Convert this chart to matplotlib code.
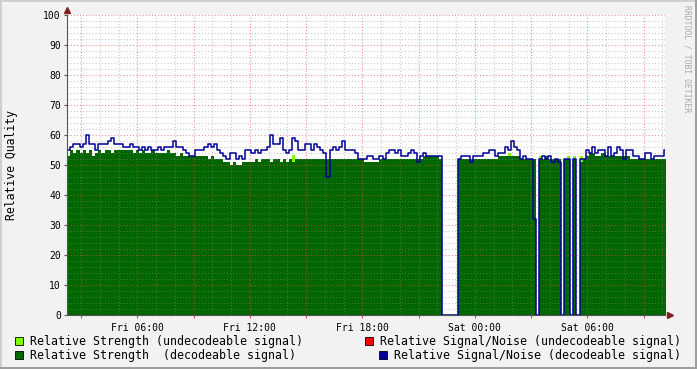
import numpy as np
import matplotlib
matplotlib.use("Agg")
import matplotlib.pyplot as plt
from matplotlib.patches import Rectangle

plt.rcParams["lines.scale_dashes"] = False

# time axis: hours since Fri 00:00, one value per 10 minutes
start_hour = 2.25
step_hours = 1 / 6

# relative strength (decodeable signal)
strength = [
    53, 55, 54, 55, 54, 55, 54, 55, 53, 54, 55, 54,
    55, 55, 54, 55, 55, 55, 55, 55, 55, 54, 55, 54,
    55, 54, 54, 55, 54, 54, 54, 54, 55, 54, 54, 53,
    54, 53, 53, 53, 53, 53, 53, 53, 53, 52, 53, 52,
    52, 52, 51, 51, 50, 51, 50, 50, 51, 51, 51, 51,
    52, 51, 52, 52, 52, 51, 52, 52, 51, 52, 51, 52,
    51, 52, 52, 52, 52, 52, 52, 52, 52, 52, 52, 52,
    52, 52, 52, 52, 52, 52, 52, 52, 52, 52, 52, 51,
    51, 51, 51, 51, 52, 52, 52, 52, 52, 52, 52, 52,
    52, 52, 52, 52, 52, 52, 53, 53, 53, 53, 53, 52,
    0, 0, 0, 0, 0, 52, 52, 52, 52, 52, 52, 52,
    52, 52, 52, 52, 52, 52, 53, 53, 53, 53, 53, 53,
    53, 52, 52, 52, 52, 52, 0, 52, 52, 53, 52, 52,
    52, 52, 0, 52, 52, 0, 52, 0, 51, 52, 53, 54,
    54, 53, 53, 54, 53, 53, 53, 53, 53, 53, 53, 53,
    52, 52, 52, 52, 52, 52, 52, 52, 52, 52, 52, 52,
]

# relative signal/noise (decodeable signal)
snr = [
    55, 56, 57, 57, 56, 57, 60, 57, 57, 55, 57, 57,
    57, 58, 59, 57, 57, 57, 56, 56, 57, 56, 56, 55,
    56, 55, 56, 55, 55, 56, 55, 56, 56, 56, 58, 56,
    56, 55, 54, 53, 53, 55, 55, 55, 56, 57, 56, 57,
    55, 54, 53, 52, 54, 54, 52, 53, 52, 55, 55, 54,
    55, 54, 55, 55, 56, 60, 57, 57, 59, 55, 54, 55,
    59, 58, 55, 55, 57, 57, 55, 57, 56, 55, 54, 46,
    55, 56, 55, 56, 58, 55, 55, 55, 54, 52, 52, 52,
    53, 53, 52, 52, 53, 52, 54, 55, 55, 54, 55, 53,
    53, 54, 55, 54, 51, 53, 54, 53, 53, 53, 53, 53,
    0, 0, 0, 0, 0, 52, 53, 53, 53, 51, 53, 53,
    53, 54, 54, 55, 55, 53, 54, 54, 56, 55, 58, 56,
    55, 52, 53, 52, 52, 32, 0, 52, 53, 52, 53, 51,
    52, 51, 0, 52, 52, 0, 52, 0, 52, 52, 55, 54,
    56, 54, 55, 55, 53, 56, 53, 54, 56, 55, 52, 55,
    55, 53, 53, 52, 52, 54, 54, 52, 53, 53, 53, 55,
]

# relative strength (undecodeable signal): only a few bins
light_bins = [72, 141, 151, 160, 162, 164]
light_values = [53.5, 54, 53, 53, 53, 53]

tick_hours = [6, 12, 18, 24, 30]
tick_labels = ["Fri 06:00", "Fri 12:00", "Fri 18:00", "Sat 00:00", "Sat 06:00"]

legend_items = [
    ("Relative Strength (undecodeable signal)", "#80ff00"),
    ("Relative Strength  (decodeable signal)", "#006600"),
    ("Relative Signal/Noise (undecodeable signal)", "#ff0000"),
    ("Relative Signal/Noise (decodeable signal)", "#000099"),
]

W, H = 697, 369
fig = plt.figure(figsize=(W / 100, H / 100), dpi=100, facecolor="#f2f2f2")
ax = fig.add_axes([67 / W, 1 - 315 / H, 598 / W, 300 / H])
ax.set_facecolor("white")

n = len(strength)
edges = start_hour + np.arange(n + 1) * step_hours
s = np.append(strength, strength[-1])
q = np.append(snr, snr[-1])

light = np.zeros(n)
light[light_bins] = light_values
ax.fill_between(edges, np.append(light, light[-1]), step="post",
                color="#80ff00", lw=0, zorder=1, antialiased=False)
ax.fill_between(edges, s, step="post", color="#006600", lw=0, zorder=1.1,
                antialiased=False)
ax.step(edges, q, where="post", color="#000099", lw=1.1, zorder=3)

x_end = start_hour + 598 / 18.75
ax.set_xlim(start_hour, x_end)
ax.set_ylim(0, 100)

ax.set_yticks(np.arange(0, 101, 10))
ax.set_yticks(np.arange(0, 101, 2), minor=True)
ax.set_xticks(np.arange(3, 34, 3))
ax.set_xticklabels([tick_labels[tick_hours.index(h)] if h in tick_hours else ""
                    for h in range(3, 34, 3)])
ax.set_xticks(np.arange(3, 35, 1), minor=True)

ax.grid(which="minor", color="#8f8f8f", alpha=0.5, lw=0.75,
        linestyle=(0, (0.75, 1.5)))
ax.grid(which="major", color="#de5050", alpha=0.65, lw=0.75,
        linestyle=(0, (0.75, 1.5)))
ax.set_axisbelow(False)

for side in ["top", "right"]:
    ax.spines[side].set_visible(False)
for side in ["left", "bottom"]:
    ax.spines[side].set_color("#555555")
    ax.spines[side].set_linewidth(0.8)
    ax.spines[side].set_zorder(4)

ax.tick_params(axis="y", which="major", length=2.5, color="#555555",
               labelsize=7, pad=2)
ax.tick_params(axis="x", which="major", length=2.5, color="#de5050",
               labelsize=7, pad=3)
ax.tick_params(which="minor", length=0)
for lab in ax.get_xticklabels() + ax.get_yticklabels():
    lab.set_family("DejaVu Sans Mono")

# axis arrows
ax.plot([start_hour], [101.7], marker="^", color="#801f1f", ms=4,
        clip_on=False, zorder=5)
ax.plot([x_end + 0.25], [0], marker=">", color="#801f1f", ms=4,
        clip_on=False, zorder=5)

fig.text(12 / W, 1 - 165 / H, "Relative Quality", rotation=90,
         family="DejaVu Sans Mono", fontsize=8.3, ha="center", va="center")
fig.text(687 / W, 1 - 59 / H, "RRDTOOL / TOBI OETIKER", rotation=270,
         family="DejaVu Sans Mono", fontsize=5.8, color="#aaaaaa",
         ha="center", va="center")

# legend, drawn like rrdtool does it
rows = [341, 355]
box_x = [15, 15, 365, 379]
for k, (label, colour) in enumerate(legend_items):
    y = rows[k % 2]
    bx = box_x[k]
    fig.patches.append(Rectangle((bx / W, 1 - (y + 4) / H), 8 / W, 8 / H,
                                 transform=fig.transFigure, facecolor=colour,
                                 edgecolor="black", lw=0.6))
    fig.text((bx + 15) / W, 1 - y / H, label, family="DejaVu Sans Mono",
             fontsize=8.35, ha="left", va="center")

# frame shading
fig.patches.append(Rectangle((0, 0), 2 / W, 1, transform=fig.transFigure,
                             facecolor="#cfcfcf", lw=0))
fig.patches.append(Rectangle((0, 1 - 2 / H), 1, 2 / H, transform=fig.transFigure,
                             facecolor="#cfcfcf", lw=0))
fig.patches.append(Rectangle((1 - 2 / W, 0), 2 / W, 1, transform=fig.transFigure,
                             facecolor="#9e9e9e", lw=0))
fig.patches.append(Rectangle((0, 0), 1, 2 / H, transform=fig.transFigure,
                             facecolor="#9e9e9e", lw=0))

fig.savefig("out.png", dpi=100, facecolor=fig.get_facecolor())
